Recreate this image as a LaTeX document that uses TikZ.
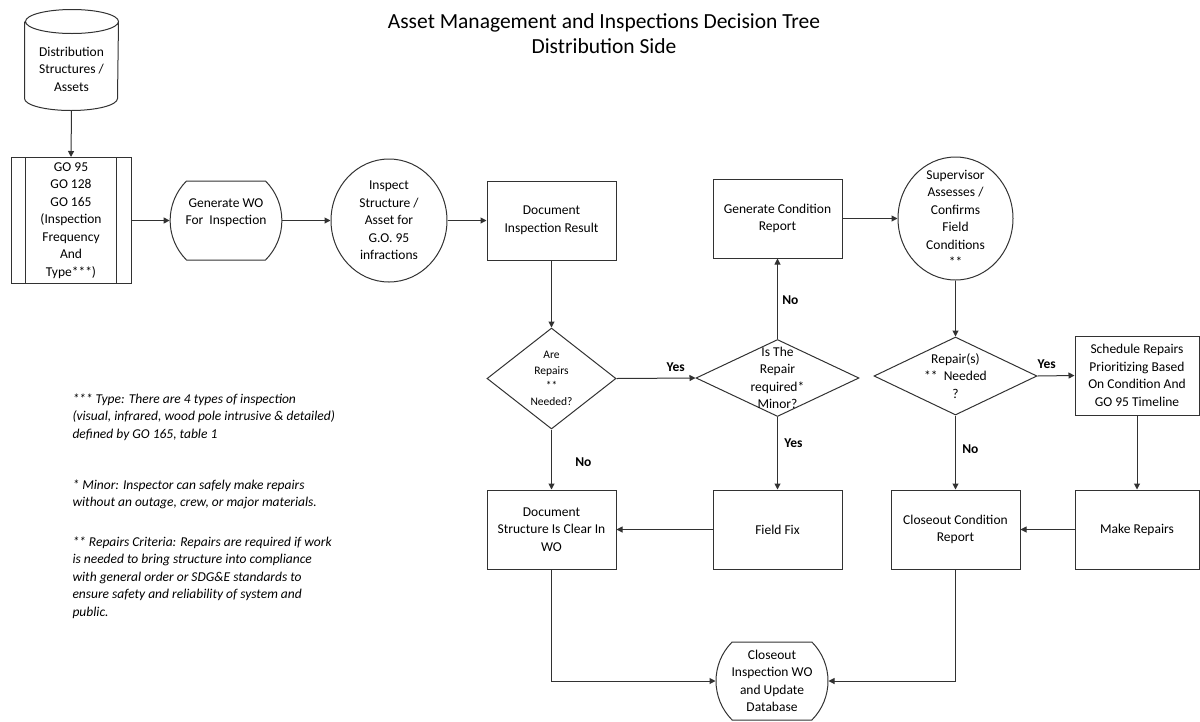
\documentclass[tikz,border=0pt]{standalone}
\usepackage{fontspec}
\setmainfont{Carlito}
\usetikzlibrary{arrows.meta,shapes.geometric,shapes.misc,positioning}
\definecolor{line_grey}{RGB}{50,50,50}

\begin{document}
\begin{tikzpicture}[x=1pt, y=-1pt, line width=1pt,
      every node/.style={font=\fontsize{13.5}{17.5}\selectfont},
      box/.style={draw=line_grey, minimum width=129pt, minimum height=79pt,
                  align=center, inner sep=2pt},
      term/.style={draw=line_grey, rounded rectangle, rounded rectangle arc length=90,
                   minimum width=113pt, minimum height=79pt, align=center, inner sep=1pt},
      blob/.style={draw=line_grey, ellipse, minimum width=116pt, minimum height=123pt},
      dia/.style={draw=line_grey, diamond, inner sep=0pt},
      lbl/.style={font=\fontsize{13.5}{15}\selectfont\bfseries},
      note/.style={anchor=north west, align=left, inner sep=0pt,
                   font=\fontsize{13.5}{17.5}\selectfont\itshape},
      arr/.style={draw=line_grey, -{Triangle[length=6pt,width=6pt]}}]
    \useasboundingbox (0,0) rectangle (1200,721);
    \node[align=center, font=\fontsize{21.5}{25}\selectfont] (title) at (604,34)
      {Asset Management and Inspections Decision Tree\\Distribution Side};

    \node[align=center, minimum width=93pt, minimum height=82pt, inner sep=0pt] (assets) at (71.5,69)
      {Distribution\\Structures /\\Assets};
    \draw[line_grey] ([yshift=6pt]assets.north west) -- ([yshift=12pt]assets.south west)
      arc[start angle=180, end angle=360, x radius=46.5pt, y radius=12pt]
      -- ([yshift=6pt]assets.north east)
      arc[start angle=0, end angle=360, x radius=46.5pt, y radius=12pt];
    \node[box, minimum width=120pt, minimum height=126pt] (gos) at (71,220.5)
      {GO 95\\GO 128\\GO 165\\(Inspection\\Frequency\\And\\Type***)};
    \draw[line_grey] ([xshift=15pt]gos.north west) -- ([xshift=15pt]gos.south west);
    \draw[line_grey] ([xshift=-15pt]gos.north east) -- ([xshift=-15pt]gos.south east);
    \node[term] (genwo) at (226,220.5) {Generate WO\\For~~Inspection\\\mbox{}};
    \node[blob, label={[align=center]center:Inspect\\Structure /\\Asset for\\G.O. 95\\infractions}]
      (inspect) at (389,220.5) {};
    \node[box] (docres) at (551.5,220.5) {Document\\Inspection Result};

    \node[dia, minimum width=129pt, minimum height=101pt,
          label={[align=center, font=\fontsize{11.5}{15.5}\selectfont]center:Are\\Repairs\\**\\Needed?}]
      (q1) at (551.5,378.5) {};
    \node[dia, minimum width=163pt, minimum height=77pt,
          label={[align=center]center:Is The\\Repair\\required*\\Minor?}]
      (q2) at (777.5,378) {};
    \node[box] (gencond) at (777.5,218.5) {Generate Condition\\Report};
    \node[blob, minimum width=115pt,
          label={[align=center]center:Supervisor\\Assesses /\\Confirms\\Field\\Conditions\\**}]
      (superv) at (955.5,218.5) {};
    \node[dia, minimum width=163pt, minimum height=78pt,
          label={[align=center]center:Repair(s)\\**~~Needed\\?}]
      (q3) at (955.5,376) {};
    \node[box, minimum width=124pt] (sched) at (1137,375.5)
      {Schedule Repairs\\Prioritizing Based\\On Condition And\\GO 95 Timeline};

    \node[box] (docclear) at (551.5,529.5) {Document\\Structure Is Clear In\\WO};
    \node[box] (fieldfix) at (777.5,529.5) {Field Fix};
    \node[box] (closecond) at (955.5,529.5) {Closeout Condition\\Report};
    \node[box, minimum width=124pt] (makerep) at (1137,529.5) {Make Repairs};
    \node[term, minimum width=114pt, minimum height=78pt] (closeout) at (772,681)
      {Closeout\\Inspection WO\\and Update\\Database};

    \node[note] (note1) at (72,393) {*** Type: There are 4 types of inspection\\(visual, infrared, wood pole intrusive \& detailed)\\defined by GO 165, table 1};
    \node[note] (note2) at (72,479) {* Minor: Inspector can safely make repairs\\without an outage, crew, or major materials.};
    \node[note] (note3) at (72,536) {** Repairs Criteria: Repairs are required if work\\is needed to bring structure into compliance\\with general order or SDG\&E standards to\\ensure safety and reliability of system and\\public.};

    \draw[arr] (assets.south) -- (gos.north);
    \draw[arr] (gos.east) -- (genwo.west);
    \draw[arr] (genwo.east) -- (inspect.west);
    \draw[arr] (inspect.east) -- (docres.west);
    \draw[arr] (docres.south) -- (q1.north);
    \draw[arr] (q1.east) -- node[lbl, pos=.75, above=3pt] {Yes} (q2.west);
    \draw[arr] (q1.south) -- node[lbl, pos=.54, right=20pt] {No} (docclear.north);
    \draw[arr] (q2.north) -- node[lbl, pos=.48, right=1pt] {No} (gencond.south);
    \draw[arr] (q2.south) -- node[lbl, pos=.36, right=3pt] {Yes} (fieldfix.north);
    \draw[arr] (fieldfix.west) -- (docclear.east);
    \draw[arr] (gencond.east) -- (superv.west);
    \draw[arr] (superv.south) -- (q3.north);
    \draw[arr] (q3.east) -- node[lbl, pos=.25, above=3pt] {Yes} (sched.west);
    \draw[arr] (q3.south) -- node[lbl, pos=.45, right=3pt] {No} (closecond.north);
    \draw[arr] (sched.south) -- (makerep.north);
    \draw[arr] (makerep.west) -- (closecond.east);
    \draw[arr] (docclear.south) |- (closeout.west);
    \draw[arr] (closecond.south) |- (closeout.east);
  \end{tikzpicture}
\end{document}
